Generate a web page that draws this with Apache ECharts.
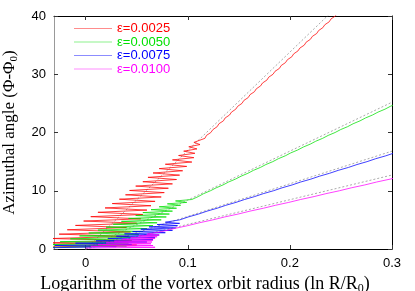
<!DOCTYPE html>
<html><head><meta charset="utf-8">
<script src="https://cdn.jsdelivr.net/npm/echarts@6/dist/echarts.min.js"></script>
<style>html,body{margin:0;padding:0;background:#fff}#c{width:415px;height:291px}</style>
</head><body><div id="c"></div>
<script>
var seriesNames = ['ε=0.0025', 'ε=0.0050', 'ε=0.0075', 'ε=0.0100'];
var xTicks = [0, 0.1, 0.2, 0.3];
var yTicks = [0, 10, 20, 30, 40];

var redY = [0.30,0.68,1.05,1.43,1.80,2.18,2.55,2.93,3.30,3.68,4.05,4.43,4.80,5.18,5.55,5.93,6.30,6.68,7.05,7.43,7.80,8.18,8.55,8.93,9.30,9.68,10.05,10.43,10.80,11.18,11.55,11.93,12.30,12.68,13.05,13.43,13.80,14.18,14.55,14.93,15.30,15.68,16.05,16.43,16.80,17.18,17.55,17.93,18.30,
  19.0,19.5,20.0,20.5,21.0,21.5,22.0,22.5,23.0,23.5,24.0,24.5,25.0,25.5,26.0,26.5,27.0,27.5,28.0,28.5,29.0,29.5,30.0,30.5,31.0,31.5,32.0,32.5,33.0,33.5,34.0,34.5,35.0,35.5,36.0,36.5,37.0,37.5,38.0,38.5,39.0,39.5,40.0,40.5];
var redX = [-0.050,0.050,-0.040,0.045,-0.033,0.042,-0.026,0.044,-0.018,0.040,-0.010,0.050,-0.002,0.054,0.005,0.056,0.012,0.060,0.019,0.064,0.026,0.068,0.033,0.074,0.039,0.077,0.043,0.081,0.049,0.085,0.056,0.089,0.061,0.092,0.066,0.095,0.072,0.099,0.078,0.104,0.085,0.106,0.091,0.107,0.096,0.109,0.101,0.112,0.106,
  0.1168,0.1183,0.1226,0.1246,0.1288,0.1305,0.1349,0.1366,0.1409,0.1428,0.1470,0.1489,0.1531,0.1549,0.1592,0.1610,0.1653,0.1671,0.1713,0.1732,0.1775,0.1793,0.1835,0.1854,0.1897,0.1915,0.1957,0.1976,0.2019,0.2037,0.2079,0.2098,0.2141,0.2159,0.2201,0.2220,0.2263,0.2281,0.2323,0.2342,0.2385,0.2403,0.2445,0.2464];

var greenY = [0.25,0.50,0.75,1.00,1.25,1.50,1.75,2.00,2.25,2.50,2.75,3.00,3.25,3.50,3.75,4.00,4.25,4.50,4.75,5.00,5.25,5.50,5.75,6.00,6.25,6.50,6.75,7.00,7.25,7.50,7.75,8.00,8.25,8.50,
  9.0,9.5,10.0,10.5,11.0,11.5,12.0,12.5,13.0,13.5,14.0,14.5,15.0,15.5,16.0,16.5,17.0,17.5,18.0,18.5,19.0,19.5,20.0,20.5,21.0,21.5,22.0,22.5,23.0,23.5,24.0,24.5,25.0];
var greenX = [-0.045,0.040,-0.035,0.042,-0.025,0.045,-0.015,0.050,-0.006,0.052,0.003,0.056,0.012,0.060,0.020,0.066,0.027,0.070,0.035,0.074,0.042,0.079,0.049,0.082,0.056,0.085,0.064,0.089,0.072,0.093,0.080,0.099,0.088,0.104,
  0.1103,0.1155,0.1222,0.1278,0.1345,0.1400,0.1467,0.1522,0.1589,0.1643,0.1711,0.1765,0.1833,0.1887,0.1955,0.2009,0.2077,0.2131,0.2199,0.2253,0.2321,0.2375,0.2443,0.2497,0.2565,0.2619,0.2687,0.2741,0.2809,0.2863,0.2931,0.2985,0.3053];

var blueY = [0.20,0.40,0.60,0.80,1.00,1.20,1.40,1.60,1.80,2.00,2.20,2.40,2.60,2.80,3.00,3.20,3.40,3.60,3.80,4.00,4.20,4.40,4.60,
  5.0,5.5,6.0,6.5,7.0,7.5,8.0,8.5,9.0,9.5,10.0,10.5,11.0,11.5,12.0,12.5,13.0,13.5,14.0,14.5,15.0,15.5,16.0,16.5,17.0];
var blueX = [-0.040,0.030,-0.030,0.045,-0.010,0.060,0.010,0.066,0.022,0.068,0.030,0.072,0.038,0.078,0.046,0.085,0.054,0.088,0.062,0.090,0.070,0.092,0.078,
  0.0921,0.1005,0.1105,0.1189,0.1288,0.1372,0.1472,0.1556,0.1655,0.1739,0.1839,0.1923,0.2022,0.2106,0.2206,0.2290,0.2389,0.2473,0.2573,0.2657,0.2756,0.2840,0.2940,0.3024,0.3119];

var magentaY = [0.15,0.30,0.45,0.60,0.75,0.90,1.05,1.20,1.35,1.50,1.65,1.80,1.95,2.10,2.25,2.40,2.55,
  3.0,3.5,4.0,4.5,5.0,5.5,6.0,6.5,7.0,7.5,8.0,8.5,9.0,9.5,10.0,10.5,11.0,11.5,12.0,12.5];
var magentaX = [0.000,0.068,0.005,0.066,0.012,0.064,0.020,0.065,0.028,0.066,0.036,0.068,0.044,0.070,0.052,0.072,0.060,
  0.0748,0.0864,0.0997,0.1113,0.1245,0.1361,0.1493,0.1609,0.1741,0.1857,0.1989,0.2105,0.2237,0.2353,0.2485,0.2601,0.2734,0.2850,0.2982,0.3098];

// gray dotted reference lines: start and end points
var refX = [0, 0.3];
var refRedY = [0, 50.7];
var refGreenY = [0, 25.2];
var refBlueY = [0, 16.8];
var refMagentaY = [0, 12.7];

function zip(xs, ys) { return xs.map(function (x, i) { return [x, ys[i]]; }); }

var colors = ['#ff0000', '#00e000', '#0000ff', '#ff00ff'];
var mainData = [zip(redX, redY), zip(greenX, greenY), zip(blueX, blueY), zip(magentaX, magentaY)];
var refData = [zip(refX, refRedY), zip(refX, refGreenY), zip(refX, refBlueY), zip(refX, refMagentaY)];

var series = [];
refData.forEach(function (d, i) {
  series.push({ name: 'ref' + i, type: 'line', data: d, showSymbol: false, silent: true,
    lineStyle: { color: '#aaaaaa', width: 1, type: [2, 2] }, z: 1 });
});
mainData.forEach(function (d, i) {
  series.push({ name: seriesNames[i], type: 'line', data: d, showSymbol: false,
    color: colors[i], lineStyle: { color: colors[i], width: 1, opacity: 0.75 }, z: 2 });
});

var sans = 'Liberation Sans';
var serif = 'Liberation Serif';
var chart = echarts.init(document.getElementById('c'), null, { renderer: 'canvas' });
chart.setOption({
  animation: false,
  grid: { left: 54, right: 23, top: 16, bottom: 42, containLabel: false, outerBoundsMode: 'none' },
  legend: {
    orient: 'vertical', left: 69, top: 17, icon: 'rect', itemWidth: 38, itemHeight: 1, itemGap: 0.5,
    itemStyle: { opacity: 0.45 },
    textStyle: { fontSize: 13, fontFamily: sans, lineHeight: 13, padding: [0, 0, 0, 0] },
    data: seriesNames.map(function (n, i) { return { name: n, textStyle: { color: colors[i] } }; })
  },
  xAxis: [{
    type: 'value', min: -0.031, max: 0.3,
    name: 'Logarithm of the vortex orbit radius (ln R/R{s|0})', nameLocation: 'middle', nameGap: 25,
    nameTextStyle: { fontFamily: serif, fontSize: 18, color: '#000', padding: [0, 36, 0, 0], rich: { s: { fontFamily: serif, fontSize: 12, padding: [9, 0, 0, 0] } } },
    axisLine: { onZero: false, lineStyle: { color: '#000' } },
    axisTick: { inside: true, length: 4, customValues: xTicks, lineStyle: { color: '#333' } },
    axisLabel: { customValues: xTicks, fontFamily: sans, fontSize: 13, color: '#000', margin: 8, formatter: function (v) { return String(v); } },
    splitLine: { show: false }
  }, {
    type: 'value', min: -0.031, max: 0.3, position: 'top',
    axisLine: { show: true, onZero: false, lineStyle: { color: '#000' } },
    axisTick: { show: true, inside: true, length: 4, customValues: xTicks, lineStyle: { color: '#333' } },
    axisLabel: { show: false }, splitLine: { show: false }
  }],
  yAxis: [{
    type: 'value', min: 0, max: 40, interval: 10,
    name: 'Azimuthal angle (Φ-Φ{s|0})', nameLocation: 'middle', nameGap: 34,
    nameTextStyle: { fontFamily: serif, fontSize: 17, color: '#000', rich: { s: { fontFamily: serif, fontSize: 11, padding: [9, 0, 0, 0] } } },
    axisLine: { show: true, onZero: false, lineStyle: { color: '#999' } },
    axisTick: { show: true, inside: true, length: 4, lineStyle: { color: '#333' } },
    axisLabel: { fontFamily: sans, fontSize: 13, color: '#000', margin: 8 },
    splitLine: { show: false }
  }, {
    type: 'value', min: 0, max: 40, interval: 10, position: 'right',
    axisLine: { show: true, onZero: false, lineStyle: { color: '#000' } },
    axisTick: { show: true, inside: true, length: 4, lineStyle: { color: '#333' } },
    axisLabel: { show: false }, splitLine: { show: false }
  }],
  series: series
});
</script></body></html>
